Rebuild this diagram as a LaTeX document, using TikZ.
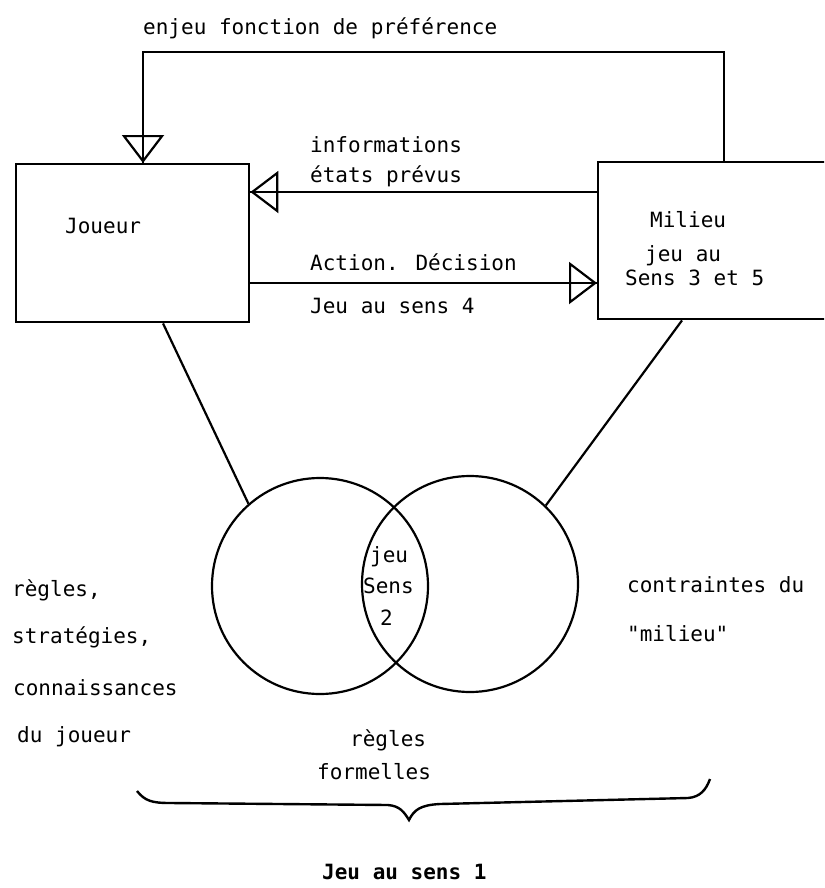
\documentclass[tikz,border=0pt]{standalone}
\usepackage{fontspec}
\newfontfamily\tw{DejaVu Sans Mono}
\usetikzlibrary{arrows.meta}
\tikzset{
  lbl/.style={anchor=west,inner sep=0pt,font=\tw\fontsize{21}{24}\selectfont},
  boldlbl/.style={lbl,font=\tw\bfseries\fontsize{21}{24}\selectfont},
  boxnode/.style={draw,line width=2.4pt,inner sep=0pt,anchor=north west},
  ring/.style={draw,circle,line width=2.2pt,inner sep=0pt,minimum size=216pt},
  wire/.style={line width=2.2pt},
  opentip/.style={-{Triangle[open,length=28pt,width=42pt,line width=2.2pt]}}
}
\begin{document}
\begin{tikzpicture}[x=1pt,y=-1pt]
\useasboundingbox (0,0) rectangle (824,888);
\clip (0,0) rectangle (824,888);
% boxes
\node[boxnode,minimum width=233pt,minimum height=158pt] (joueur) at (15,163) {};
\node[boxnode,minimum width=260pt,minimum height=157pt] (milieu) at (597,161) {};
% circles
\node[ring] (c1) at (320,586) {};
\node[ring] (c2) at (470,584) {};
% connector coordinates
\coordinate (jt) at ([xshift=128pt]joueur.north west);
\coordinate (mt) at ([xshift=127pt]milieu.north west);
\coordinate (tl) at (143,52);
\coordinate (tr) at (724,52);
\coordinate (mi) at ([yshift=-31pt]milieu.north west);
\coordinate (ji) at ([yshift=-29pt]joueur.north east);
\coordinate (ja) at ([yshift=-120pt]joueur.north east);
\coordinate (ma) at ([yshift=-122pt]milieu.north west);
\coordinate (jb) at ([xshift=148pt]joueur.south west);
\coordinate (mb) at ([xshift=85pt]milieu.south west);
% top loop
\draw[wire] (mt) -- (tr) -- (tl) -- (jt);
\draw[wire,opentip] (tl) -- (jt);
% informations arrow
\draw[wire] (mi) -- (ji);
\draw[wire,opentip] (mi) -- (ji);
% action arrow
\draw[wire] (ja) -- (ma);
\draw[wire,opentip] (ja) -- (ma);
% links to circles
\draw[wire] (jb) -- (c1.131);
\draw[wire] (mb) -- (c2.46);
% brace
\draw[line width=2.4pt] (137,791) .. controls (145,801) and (152,803) .. (170,803)
  -- (388,805) .. controls (400,806) and (404,812) .. (409,820)
  .. controls (414,810) and (420,805) .. (440,804)
  -- (688,798) .. controls (700,797) and (706,790) .. (710,779);
% texts
\node[lbl] (t1) at (143,28) {enjeu fonction de préférence};
\node[lbl] (t2) at (310,145) {informations};
\node[lbl] (t3) at (310,176) {états prévus};
\node[lbl] (t4) at (310,262) {Action. Décision};
\node[lbl] (t5) at (310,306) {Jeu au sens 4};
\node[lbl] (t6) at (65,226) {Joueur};
\node[lbl] (t7) at (650,220) {Milieu};
\node[lbl] (t8) at (645,256) {jeu au};
\node[lbl] (t9) at (625,278) {Sens 3 et 5};
\node[lbl] (l1) at (370,557) {jeu};
\node[lbl] (l2) at (363,586) {Sens};
\node[lbl] (l3) at (380,618) {2};
\node[lbl] (a1) at (12,590) {règles,};
\node[lbl] (a2) at (12,637) {stratégies,};
\node[lbl] (a3) at (13,688) {connaissances};
\node[lbl] (a4) at (17,737) {du joueur};
\node[lbl] (b1) at (627,585) {contraintes du};
\node[lbl] (b2) at (627,634) {"milieu"};
\node[lbl] (f1) at (350,740) {règles};
\node[lbl] (f2) at (317,772) {formelles};
\node[boldlbl] (j1) at (322,872) {Jeu au sens 1};
\end{tikzpicture}
\end{document}
